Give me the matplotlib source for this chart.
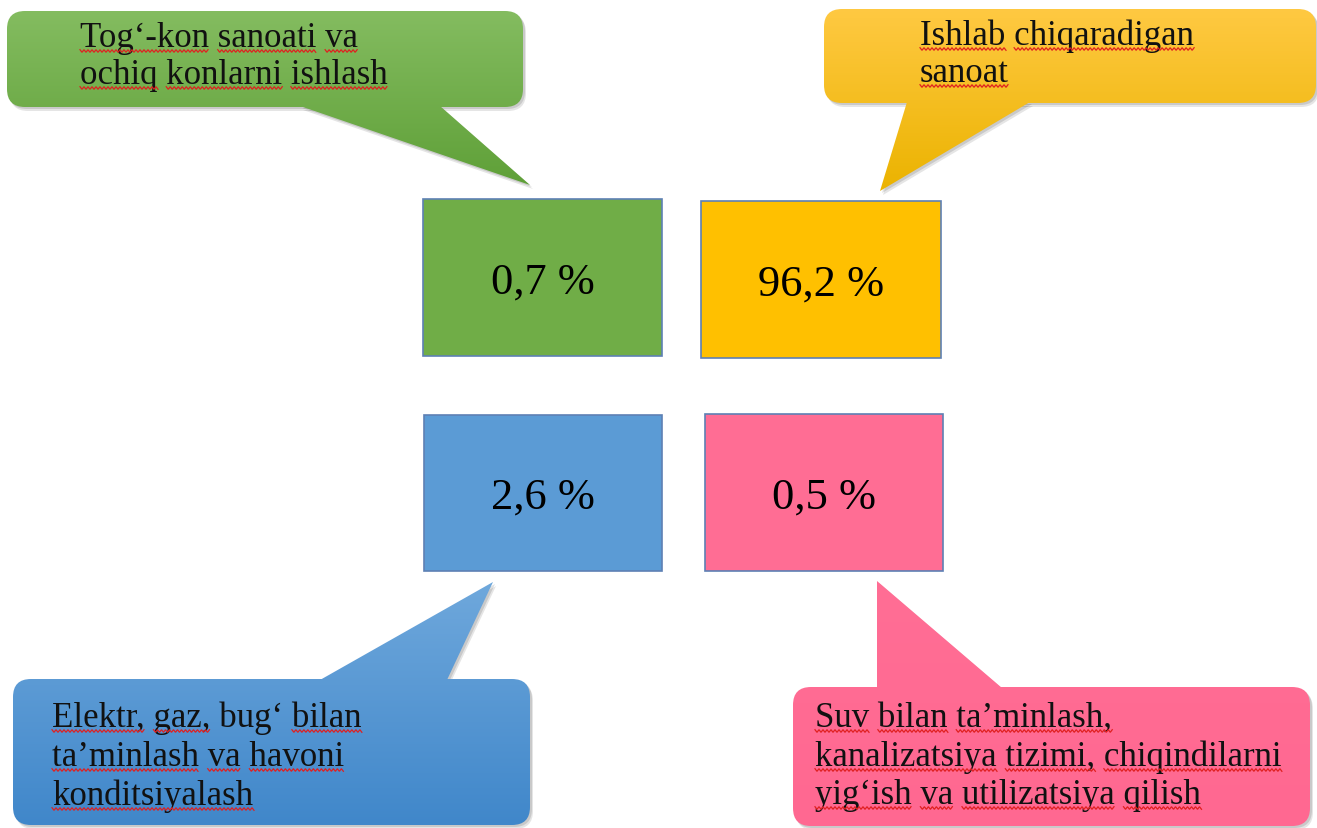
import re
import numpy as np
import matplotlib
matplotlib.use("Agg")
import matplotlib.pyplot as plt
from matplotlib.patches import FancyBboxPatch, Polygon, Rectangle
from matplotlib.font_manager import FontProperties
from matplotlib.colors import LinearSegmentedColormap

# shares by sector
values = ["0,7 %", "96,2 %", "2,6 %", "0,5 %"]
sectors = [
    ["Tog‘-kon sanoati va", "ochiq konlarni ishlash"],
    ["Ishlab chiqaradigan", "sanoat"],
    ["Elektr, gaz, bug‘ bilan", "ta’minlash va havoni", "konditsiyalash"],
    ["Suv bilan ta’minlash,", "kanalizatsiya tizimi, chiqindilarni",
     "yig‘ish va utilizatsiya qilish"],
]
fill_colors = ["#70AD47", "#FFC000", "#5B9BD5", "#FF6D94"]
callout_top = ["#84BC60", "#FFC942", "#6FA8DC", "#FF6E95"]
callout_bottom = ["#5FA038", "#EBB300", "#4087CA", "#FF6891"]
no_squiggle = {"bug‘"}

# layout in pixels, y grows downward
boxes = [(423, 200, 662, 357), (701, 202, 941, 359),
         (424, 416, 662, 572), (705, 415, 943, 572)]
callout_rects = [(7, 12, 523, 108), (824, 10, 1316, 104),
                 (13, 680, 530, 826), (793, 688, 1310, 827)]
callout_tails = [
    [(300, 107), (530, 186), (440, 107)],
    [(907, 103), (880, 192), (1030, 103)],
    [(320, 681), (493, 583), (447, 681)],
    [(877, 689), (877, 582), (1002, 689)],
]
text_x = [80, 920, 52, 815]
text_baselines = [[47, 84], [45, 82], [727, 766, 805], [727, 766, 804]]

SERIF = "Liberation Serif"
LABEL_SIZE = 25
VALUE_SIZE = 32


def draw_callout(ax, rect, tail, top, bottom):
    x0, y0, x1, y1 = rect
    xs = [x0, x1] + [p[0] for p in tail]
    ys = [y0, y1] + [p[1] for p in tail]

    # soft shadow
    for dx, dy, a in [(3, 4, 0.10), (2, 2, 0.12)]:
        ax.add_patch(FancyBboxPatch((x0 + dx, y0 + dy), x1 - x0, y1 - y0,
                                    boxstyle="round,pad=0,rounding_size=18",
                                    fc="black", ec="none", alpha=a, zorder=1))
        ax.add_patch(Polygon([(px + dx, py + dy) for px, py in tail],
                             fc="black", ec="none", alpha=a, zorder=1))

    body = FancyBboxPatch((x0, y0), x1 - x0, y1 - y0,
                          boxstyle="round,pad=0,rounding_size=18",
                          fc="none", ec="none", zorder=2)
    point = Polygon(tail, closed=True, fc="none", ec="none", zorder=2)
    ax.add_patch(body)
    ax.add_patch(point)

    cmap = LinearSegmentedColormap.from_list("g", [top, bottom])
    grad = np.linspace(0, 1, 256).reshape(-1, 1)
    for shape in (body, point):
        im = ax.imshow(grad, cmap=cmap, aspect="auto", origin="upper",
                       extent=(min(xs), max(xs), max(ys), min(ys)),
                       interpolation="bilinear", zorder=2)
        im.set_clip_path(shape)


def squiggle(ax, x0, x1, y):
    xs = np.arange(x0, x1 + 1, 2.0)
    ys = y + np.where(np.arange(len(xs)) % 2 == 0, -1.3, 1.3)
    ax.plot(xs, ys, color="#E02020", lw=0.9, zorder=4,
            solid_joinstyle="miter")


def main():
    fig = plt.figure(figsize=(13.17, 8.29), dpi=100)
    ax = fig.add_axes([0, 0, 1, 1])
    ax.set_xlim(0, 1317)
    ax.set_ylim(829, 0)
    ax.axis("off")

    for rect, tail, top, bottom in zip(callout_rects, callout_tails,
                                       callout_top, callout_bottom):
        draw_callout(ax, rect, tail, top, bottom)

    for (x0, y0, x1, y1), val, col in zip(boxes, values, fill_colors):
        ax.add_patch(Rectangle((x0, y0), x1 - x0, y1 - y0, fc=col,
                               ec="#5E80B4", lw=1.2, zorder=3))
        ax.text((x0 + x1) / 2, (y0 + y1) / 2 + 4, val, ha="center",
                va="center", fontsize=VALUE_SIZE, family=SERIF,
                color="black", zorder=4)

    renderer = fig.canvas.get_renderer()
    prop = FontProperties(family=SERIF, size=LABEL_SIZE)

    def width(s):
        if not s:
            return 0.0
        w, _, _ = renderer.get_text_width_height_descent(s, prop, ismath=False)
        return w

    for lines, x, bases in zip(sectors, text_x, text_baselines):
        for line, yb in zip(lines, bases):
            ax.text(x, yb, line, ha="left", va="baseline",
                    fontsize=LABEL_SIZE, family=SERIF, color="#111111",
                    zorder=4)
            for m in re.finditer(r"\S+", line):
                if m.group() in no_squiggle:
                    continue
                wx0 = x + width(line[:m.start()])
                wx1 = x + width(line[:m.end()])
                squiggle(ax, wx0, wx1, yb + 5)

    fig.savefig("out.png", dpi=100)


if __name__ == "__main__":
    main()
